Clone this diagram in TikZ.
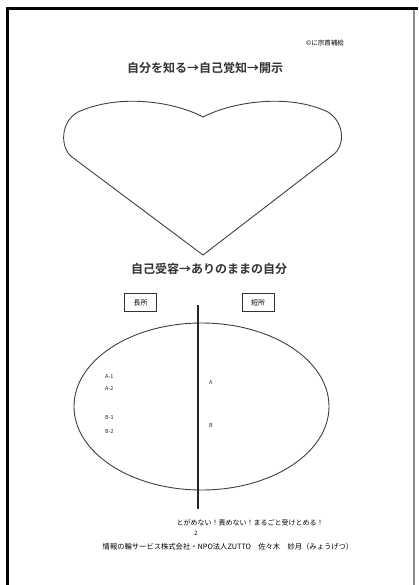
\documentclass[tikz,border=0pt]{standalone}
\usepackage{fontspec}
\newfontfamily\jp[BoldFont={Noto Sans CJK JP Bold}]{Noto Sans CJK JP}
\begin{document}
\begin{tikzpicture}[x=1pt,y=-1pt,
  shapeline/.style={draw=black!75,line width=0.9pt},
  lbl/.style={font=\jp\fontsize{5.5}{6}\selectfont,anchor=west,inner sep=0pt,text=black!85},
  tagbox/.style={draw=black!80,line width=0.9pt,minimum width=32pt,minimum height=18pt,inner sep=0pt,font=\jp\fontsize{7}{8}\selectfont},
  title/.style={font=\jp\bfseries\fontsize{12}{14}\selectfont,inner sep=0pt,text=black!80}]
\useasboundingbox (0,0) rectangle (418,585);
\fill[white] (0,0) rectangle (418,585);
% frame
\draw[black,line width=2.6pt] (7.5,585) -- (7.5,8.5) -- (418,8.5);
\draw[black!45,line width=1.4pt] (414,10) -- (414,585);
% copyright
\node[font=\jp\fontsize{6.5}{7}\selectfont,inner sep=0pt] (copy) at (325,43) {©に宗首補絵};
% title
\node[title] (t1) at (205,68) {自分を知る→自己覚知→開示};
% heart
\coordinate (notch) at (203,117);
\coordinate (tip) at (203,255);
\draw[shapeline] (notch) .. controls (175,102) and (120,93) .. (78,112)
  .. controls (60,122) and (60,148) .. (72,157) -- (tip) -- (333,155)
  .. controls (346,145) and (344,122) .. (328,112)
  .. controls (288,93) and (232,102) .. (notch) -- cycle;
% second title
\node[title] (t2) at (209,269) {自己受容→ありのままの自分};
% boxes
\node[tagbox] (good) at (140.5,302.5) {長所};
\node[tagbox] (bad) at (258,302.5) {短所};
% ellipse
\draw[shapeline] (201.5,406.5) ellipse [x radius=127.5, y radius=83.5];
% divider
\coordinate (vtop) at (198,305);
\coordinate (vbot) at (198,509);
\draw[black!85,line width=1.3pt] (vtop) -- (vbot);
% labels
\node[lbl] (a1) at (105,376) {A-1};
\node[lbl] (a2) at (105,388) {A-2};
\node[lbl] (b1) at (105,417) {B-1};
\node[lbl] (b2) at (105,431) {B-2};
\node[lbl] (a) at (209,382) {A};
\node[lbl] (b) at (209,425) {B};
% bottom texts
\node[font=\jp\fontsize{7}{8}\selectfont,inner sep=0pt] (msg) at (250,523) {とがめない！責めない！まるごと受けとめる！};
\node[font=\jp\fontsize{6}{7}\selectfont,inner sep=0pt] (pg) at (196,533) {2};
\node[font=\jp\fontsize{7.3}{8}\selectfont,inner sep=0pt] (foot) at (228,547) {情報の輪サービス株式会社・NPO法人ZUTTO　佐々木　妙月（みょうげつ）};
\end{tikzpicture}
\end{document}
